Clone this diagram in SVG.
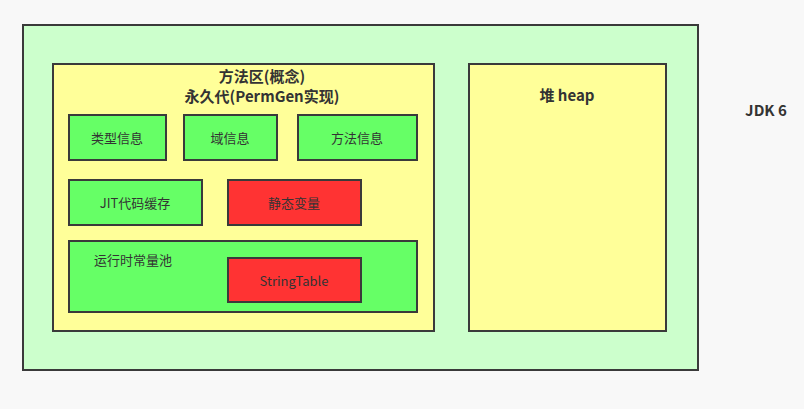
<svg xmlns="http://www.w3.org/2000/svg" width="804" height="409" viewBox="0 0 804 409">
<style>
rect{stroke:#3a3a3a;stroke-width:2}
.g{fill:#66ff66}.r{fill:#ff3333}.y{fill:#ffff99}
text{font-family:"Noto Sans CJK SC","Open Sans",sans-serif;fill:#333;text-anchor:middle}
.b{font-weight:bold;font-size:15px}
.n{font-size:13px}
</style>
<rect x="0" y="0" width="804" height="409" fill="#f8f8f8" style="stroke:none"/>
<g id="jdk6"><rect x="23" y="25" width="675" height="345" fill="#ccffcc"/></g>
<g id="method-area"><rect x="53" y="64" width="381" height="267" class="y"/>
<text x="262" y="82" class="b">方法区(概念)</text><text x="262" y="102" class="b">永久代(PermGen实现)</text></g>
<g id="type"><rect x="69" y="115" width="97" height="45" class="g"/><text x="117" y="143" class="n">类型信息</text></g>
<g id="field"><rect x="184" y="115" width="93" height="45" class="g"/><text x="230" y="143" class="n">域信息</text></g>
<g id="method"><rect x="298" y="115" width="119" height="45" class="g"/><text x="357" y="143" class="n">方法信息</text></g>
<g id="jit"><rect x="69" y="180" width="133" height="45" class="g"/><text x="135" y="208" class="n">JIT代码缓存</text></g>
<g id="static"><rect x="228" y="180" width="133" height="45" class="r"/><text x="294" y="208" class="n">静态变量</text></g>
<g id="pool"><rect x="69" y="241" width="348" height="71" class="g"/><text x="133" y="265" class="n">运行时常量池</text></g>
<g id="stringtable"><rect x="228" y="258" width="133" height="44" class="r"/><text x="294" y="286" class="n">StringTable</text></g>
<g id="heap"><rect x="469" y="64" width="197" height="267" class="y"/><text x="567" y="101" class="b">堆 heap</text></g>
<g id="label"><text x="766" y="116" class="b">JDK 6</text></g>
<g id="connectors"/>
</svg>
